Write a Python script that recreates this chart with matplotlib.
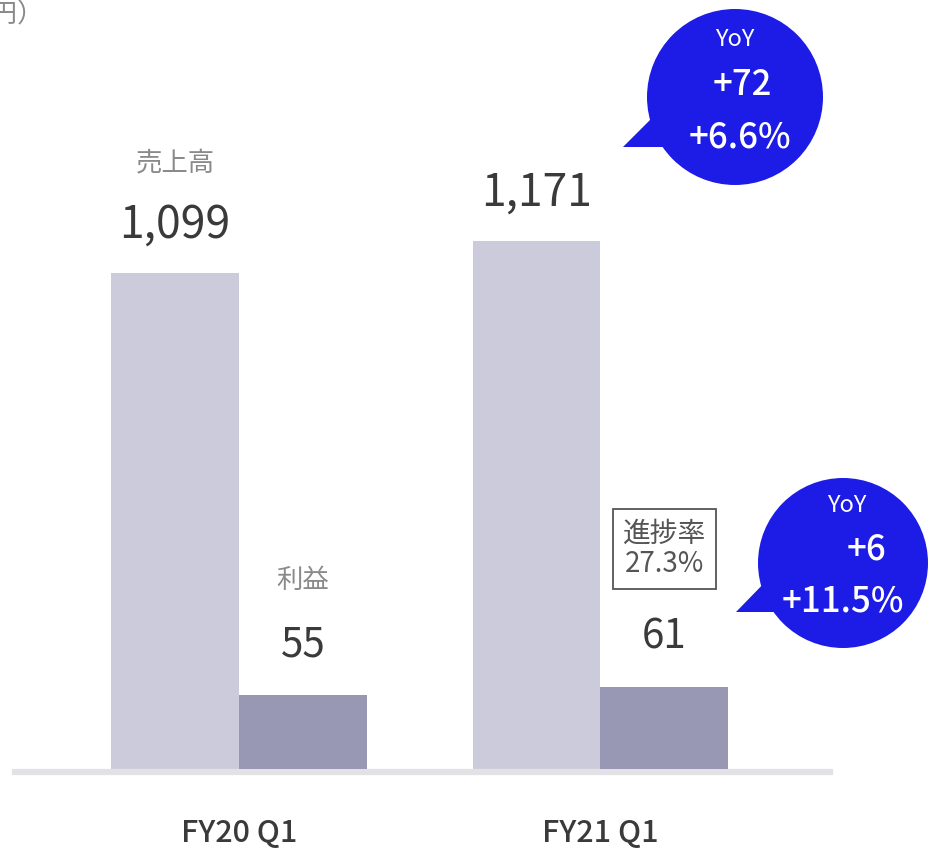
import matplotlib.pyplot as plt
import numpy as np
from matplotlib.patches import Ellipse, Polygon

plt.rcParams['font.family'] = ['Noto Sans CJK JP', 'DejaVu Sans']

# --- データ ---
quarters = ['FY20 Q1', 'FY21 Q1']
sales = [1099, 1171]
profit = [55, 61]
sales_yoy = ['+72', '+6.6%']
profit_yoy = ['+6', '+11.5%']
progress = '27.3%'

W, H = 933, 850
C_SALES = '#cbcbdb'
C_PROFIT = '#9898b5'
C_TEXT = '#3a3a3a'
C_GRAY = '#8a8a8a'
C_BLUE = '#1c1ce6'


def fx(px):
    return px / W


def fy(py):
    return 1 - py / H


fig = plt.figure(figsize=(W / 100, H / 100), dpi=100)
ax = fig.add_axes([fx(15), fy(769), fx(830) - fx(15), fy(0) - fy(769)])
ax2 = ax.twinx()

x = np.arange(len(quarters))
bw = 0.354
ax.bar(x - bw / 2, sales, width=bw, color=C_SALES, zorder=2)
ax2.bar(x + bw / 2, profit, width=bw, color=C_PROFIT, zorder=2)

ax.set_xlim(-0.62, 1.635)
ax.set_ylim(0, 1704)
ax2.set_ylim(0, 572)

for a in (ax, ax2):
    for s in a.spines.values():
        s.set_visible(False)
    a.set_yticks([])
ax.spines['bottom'].set_visible(True)
ax.spines['bottom'].set_color('#e2e2e6')
ax.spines['bottom'].set_linewidth(4.5)
ax.spines['bottom'].set_position(('outward', 2.2))
ax.tick_params(axis='x', length=0, pad=33, labelsize=22, labelcolor=C_TEXT)
ax.set_xticks(x)
ax.set_xticklabels(quarters, fontweight='medium')

# 数値ラベル
for i, v in enumerate(sales):
    ax.annotate(f'{v:,}', (x[i] - bw / 2, v), xytext=(0, 48), textcoords='offset pixels',
                ha='center', va='center', fontsize=32, color=C_TEXT)
for i, v in enumerate(profit):
    ax2.annotate(f'{v}', (x[i] + bw / 2, v), xytext=(0, 50), textcoords='offset pixels',
                 ha='center', va='center', fontsize=29, color=C_TEXT)

ax.annotate('売上高', (x[0] - bw / 2, sales[0]), xytext=(0, 110), textcoords='offset pixels',
            ha='center', va='center', fontsize=19, color=C_GRAY)
ax2.annotate('利益', (x[0] + bw / 2, profit[0]), xytext=(0, 115), textcoords='offset pixels',
             ha='center', va='center', fontsize=19, color=C_GRAY)

# 進捗率
ax2.annotate(f'進捗率\n{progress}', (x[1] + bw / 2, profit[1]), xytext=(0, 138),
             textcoords='offset pixels', ha='center', va='center', fontsize=20,
             color='#555555', linespacing=1.0,
             bbox=dict(boxstyle='square,pad=0.35', fc='white', ec='#555555', lw=1.3))

# 単位
fig.text(fx(44), fy(15), '（億円）', ha='right', va='center', fontsize=19, color=C_GRAY)


def bubble(cx, cy, r, tail, lines):
    fig.patches.append(Ellipse((fx(cx), fy(cy)), 2 * r / W, 2 * r / H,
                               transform=fig.transFigure, fc=C_BLUE, ec='none'))
    fig.patches.append(Polygon([(fx(p[0]), fy(p[1])) for p in tail], closed=True,
                               transform=fig.transFigure, fc=C_BLUE, ec='none'))
    for (tx, ty, s, size) in lines:
        fig.text(fx(tx), fy(ty), s, ha='center', va='center', fontsize=size,
                 color='white', fontweight='medium' if size > 20 else 'normal')


bubble(735, 97, 88, [(623, 147), (665, 147), (660, 110)],
       [(735, 40, 'YoY', 17), (742, 85, sales_yoy[0], 25), (740, 137, sales_yoy[1], 25)])
bubble(843, 563, 85, [(736, 612), (780, 612), (772, 575)],
       [(847, 505, 'YoY', 17), (866, 550, profit_yoy[0], 25), (843, 601, profit_yoy[1], 25)])

fig.savefig('out.png', dpi=100)
